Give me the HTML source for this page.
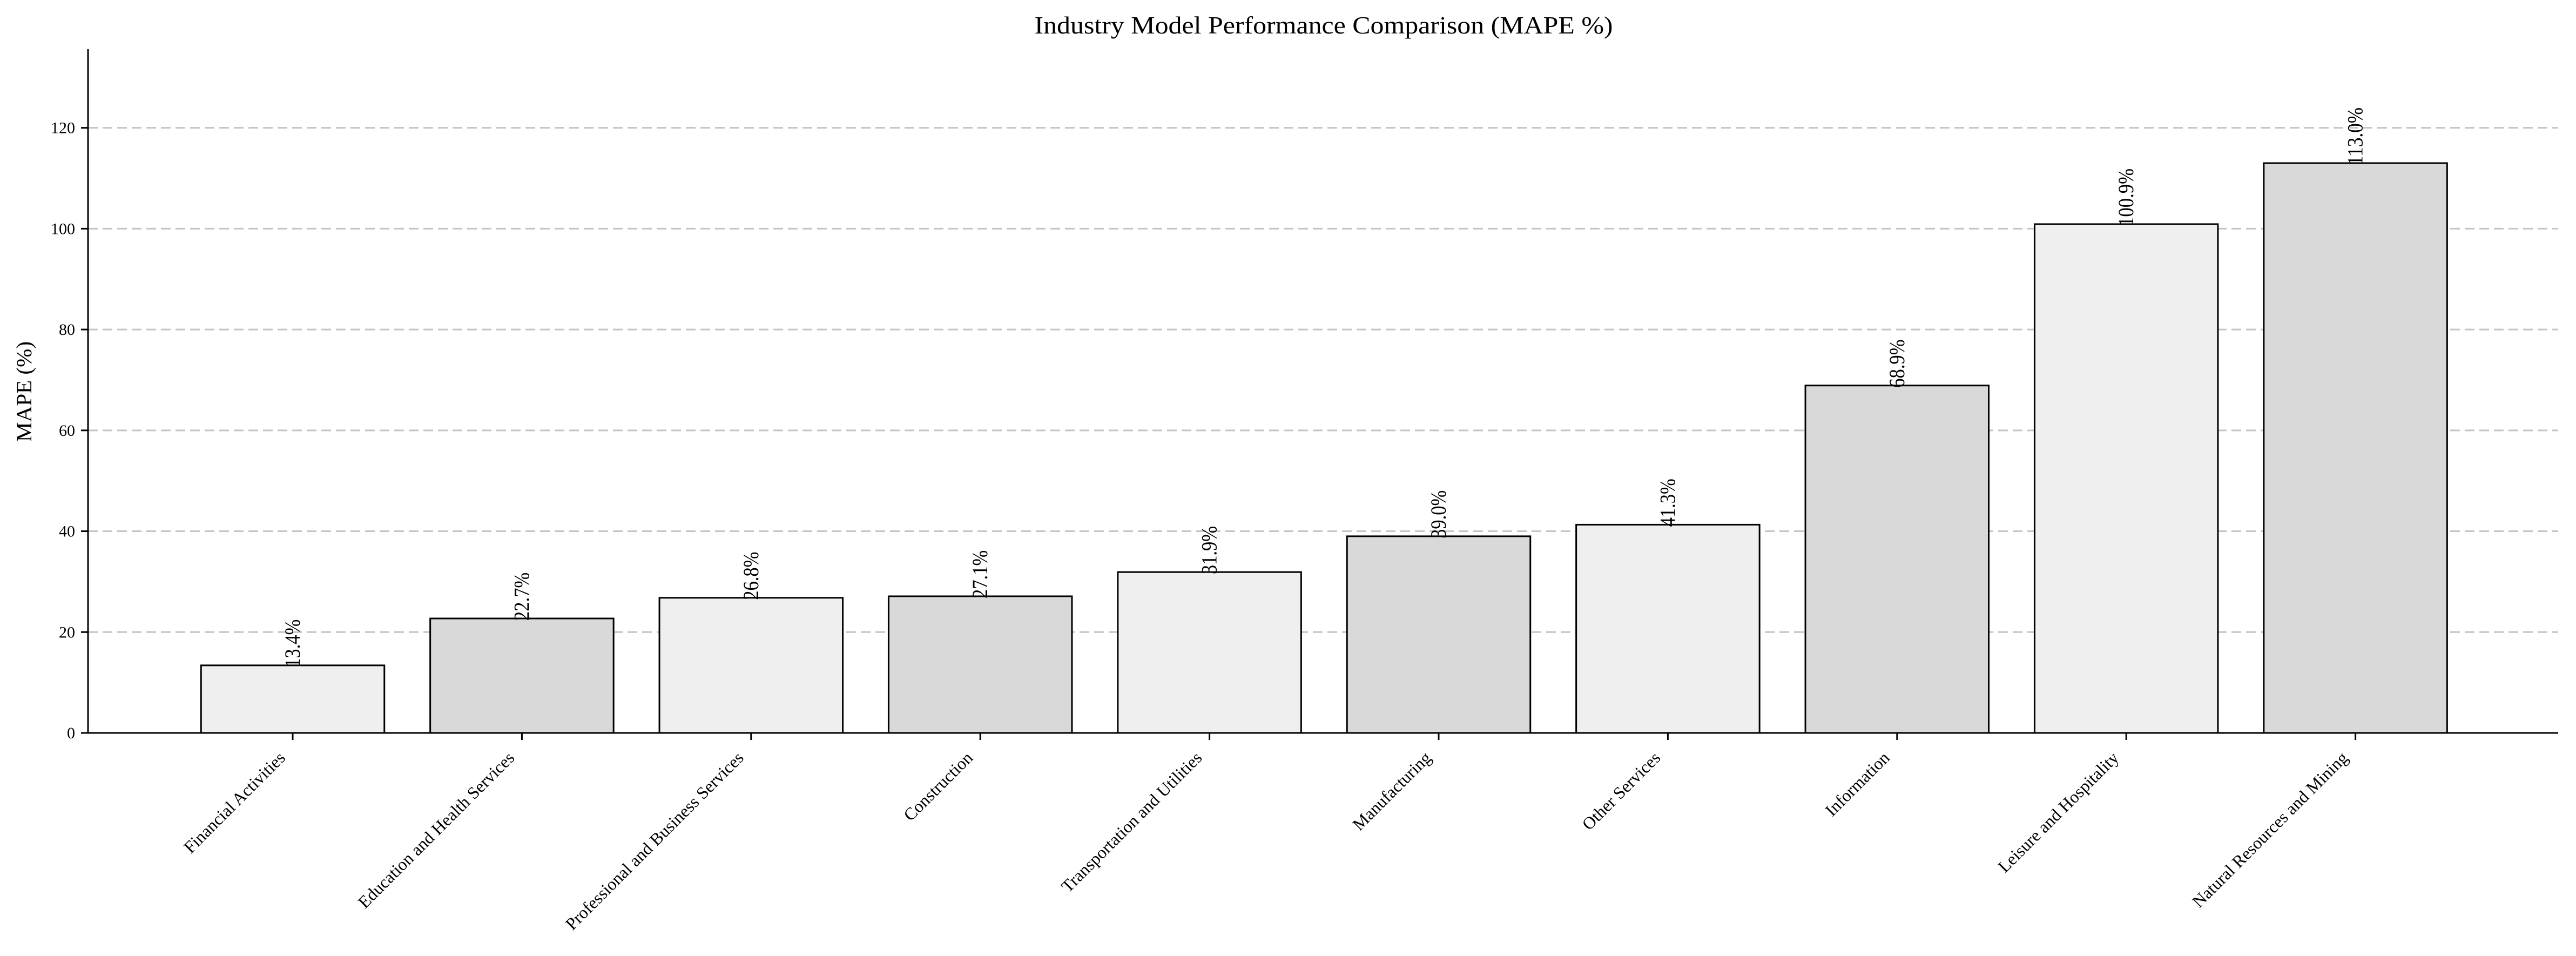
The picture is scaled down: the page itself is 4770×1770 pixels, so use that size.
<!DOCTYPE html>
<html><head><meta charset="utf-8"><style>
html,body{margin:0;padding:0;background:#fff;}
svg{display:block;font-family:"Liberation Serif",serif;}
</style></head><body>
<svg id="chart" width="4770" height="1770" xmlns="http://www.w3.org/2000/svg">
<rect width="4770" height="1770" fill="#fff"/>
<text x="2451" y="62" font-size="46" text-anchor="middle" textLength="1071" lengthAdjust="spacingAndGlyphs">Industry Model Performance Comparison (MAPE %)</text>
<text transform="translate(58,725) rotate(-90)" font-size="40" text-anchor="middle" textLength="186" lengthAdjust="spacingAndGlyphs">MAPE (%)</text>
<g id="grid"></g><g id="bars"></g><g id="labels"></g><g id="axes"></g>
</svg>
<script>
const categories = ["Financial Activities","Education and Health Services","Professional and Business Services","Construction","Transportation and Utilities","Manufacturing","Other Services","Information","Leisure and Hospitality","Natural Resources and Mining"];
const mapeValues = [13.4,22.7,26.8,27.1,31.9,39.0,41.3,68.9,100.9,113.0];
const yTicks = [0,20,40,60,80,100,120];
const yMax = 135.6;

const NS="http://www.w3.org/2000/svg";
const X0=163, X1=4737, Y0=1357, YT=91;
const firstCenter=542, step=424.4, barW=339.5;
function xPos(i){return firstCenter+i*step;}
function yPos(v){return Y0-(v/yMax)*(Y0-YT);}
function mk(tag,attrs,parent){const e=document.createElementNS(NS,tag);for(const k in attrs)e.setAttribute(k,attrs[k]);parent.appendChild(e);return e;}
const grid=document.getElementById('grid'),bars=document.getElementById('bars'),labels=document.getElementById('labels'),axes=document.getElementById('axes');

yTicks.forEach(t=>{
  const y=yPos(t);
  if(t>0){
    const g=mk('line',{x1:X0,x2:X1,y1:y,y2:y,stroke:'#c4c4c4','stroke-width':3,'stroke-dasharray':'18,9'},grid);
    
    
  }
  const tk=mk('line',{x1:X0-13,x2:X0,y1:y,y2:y,stroke:'#000','stroke-width':3},axes);
  
  
  const tl=mk('text',{x:X0-24,y:y+10,'font-size':30,'text-anchor':'end'},axes);
  tl.textContent=t;
  
  
});

mapeValues.forEach((v,i)=>{
  const cx=xPos(i), yt=yPos(v);
  const r=mk('rect',{x:cx-barW/2,y:yt,width:barW,height:Y0-yt,fill:i%2===0?'#efefef':'#d9d9d9',stroke:'#000','stroke-width':3},bars);
  
  
  const s=v.toFixed(1)+'%';
  const vl=mk('text',{transform:`translate(${cx+13},${yt+4}) rotate(-90)`,'font-size':40,textLength:(107*s.length/6).toFixed(1),lengthAdjust:'spacingAndGlyphs'},labels);
  vl.textContent=s;
  
  
  const tk=mk('line',{x1:cx,x2:cx,y1:Y0,y2:Y0+13,stroke:'#000','stroke-width':3},axes);
  
  
  const cl=mk('text',{transform:`translate(${cx-12},${Y0+48}) rotate(-45)`,'font-size':32,'text-anchor':'end'},axes);
  cl.textContent=categories[i];
  
  
});

const ya=mk('line',{x1:X0,x2:X0,y1:YT,y2:Y0+1.5,stroke:'#000','stroke-width':3},axes);


const xa=mk('line',{x1:X0-1.5,x2:X1,y1:Y0,y2:Y0,stroke:'#000','stroke-width':3},axes);


</script>
</body></html>
